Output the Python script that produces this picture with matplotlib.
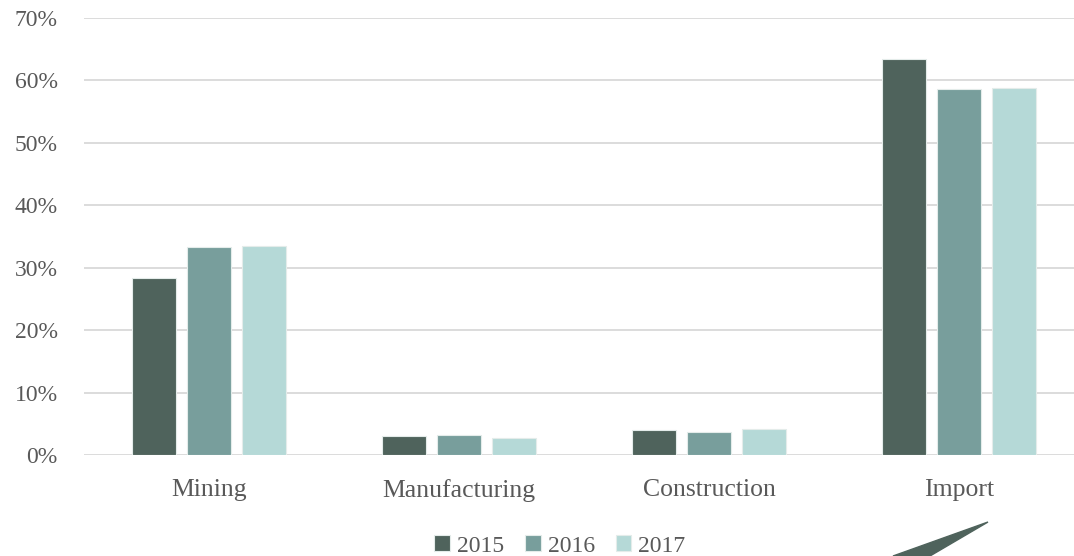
import numpy as np
import matplotlib.pyplot as plt
from matplotlib.patches import Polygon

# data
categories = ['Mining', 'Manufacturing', 'Construction', 'Import']
years = ['2015', '2016', '2017']
v2015 = [28.4, 3.0, 4.0, 63.5]
v2016 = [33.3, 3.25, 3.7, 58.7]
v2017 = [33.5, 2.7, 4.1, 58.8]
colors = ['#4f635c', '#789e9c', '#b5d9d7']

plt.rcParams['font.family'] = ['Liberation Serif', 'DejaVu Serif']

fig = plt.figure(figsize=(10.74, 5.56), dpi=100)
ax = fig.add_axes([84/1074, 1-455/556, 1000/1074, (455-18)/556])

x = np.arange(len(categories))
w = 0.176
for i, (vals, yr) in enumerate(zip([v2015, v2016, v2017], years)):
    ax.bar(x + (i-1)*0.22, np.array(vals)/100, w, color=colors[i],
           edgecolor='#e4ecea', linewidth=0.8, label=yr, zorder=3)

ax.set_xlim(-0.5, 3.5)
ax.set_ylim(0, 0.7)
ax.set_yticks(np.arange(0, 0.71, 0.1))
ax.set_yticklabels([f'{int(round(t*100))}%' for t in np.arange(0, 0.71, 0.1)])
ax.grid(axis='y', color='#d9d9d9', linewidth=1.3, zorder=0)
ax.set_xticks(x)
ax.set_xticklabels(categories)
ax.tick_params(axis='both', length=0, colors='#595959')
ax.tick_params(axis='y', pad=19, labelsize=17)
ax.tick_params(axis='x', pad=17, labelsize=18.5)
for s in ax.spines.values():
    s.set_visible(False)

fig.legend(loc='center', bbox_to_anchor=(560/1074, 1-546/556), ncol=3,
           frameon=False, fontsize=17, handlelength=0.65, handleheight=0.65,
           handletextpad=0.3, columnspacing=0.9, labelcolor='#595959',
           borderpad=0)

# decorative sliver at the bottom right
tri = Polygon([[893/1074, 0], [930/1074, 0], [988/1074, 1-522/556]],
              closed=True, transform=fig.transFigure, color='#4f635c')
fig.patches.append(tri)

fig.savefig('out.png', dpi=100)
